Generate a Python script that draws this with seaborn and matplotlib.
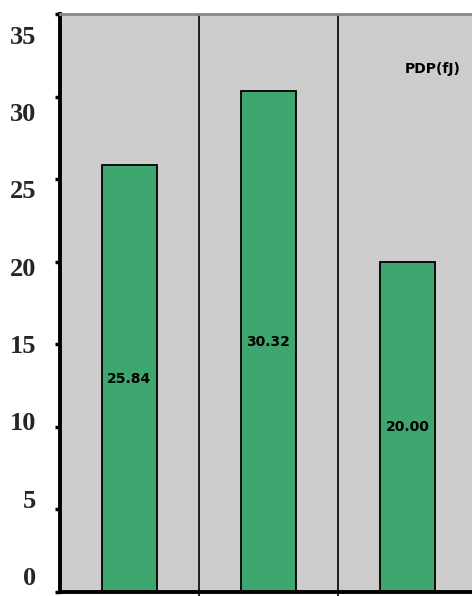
import matplotlib
matplotlib.use("Agg")
import matplotlib.pyplot as plt
import seaborn as sns
import pandas as pd

categories = ["A", "B", "C"]
values = [25.84, 30.32, 20.00]
value_labels = ["25.84", "30.32", "20.00"]
yticks = [0, 5, 10, 15, 20, 25, 30, 35]
title = "PDP(fJ)"

df = pd.DataFrame({"cat": categories, "val": values})

sns.set_style("white")
fig = plt.figure(figsize=(4.72, 5.96), dpi=100)
W, H = 472, 596
rect = [60 / W, (H - 592) / H, (477 - 60) / W, (592 - 14) / H]
ax = fig.add_axes(rect)
ax.set_facecolor("#cccccc")

sns.barplot(data=df, x="cat", y="val", ax=ax, color="#3ea66f",
            width=0.4, edgecolor="black", linewidth=1.3, saturation=1)

ax.set_xlim(-0.5, 2.5)
ax.set_ylim(0, 35)
ax.set_yticks(yticks)
ax.set_yticklabels([])
ax.tick_params(axis="y", left=True, direction="out", length=3.8, width=2.5, color="black")

ax.set_xticks([0.5, 1.5])
ax.set_xticklabels([])
ax.tick_params(axis="x", bottom=True, direction="out", length=4, width=1.2, color="black")
for xb in [0.5, 1.5]:
    ax.axvline(xb, color="black", lw=1.2, zorder=0.5)

ax.set_xlabel("")
ax.set_ylabel("")

for s in ["left", "bottom"]:
    ax.spines[s].set_color("black")
    ax.spines[s].set_linewidth(2.8)
ax.spines["top"].set_color("#888888")
ax.spines["top"].set_linewidth(2)
ax.spines["right"].set_visible(False)

# tick labels in reference sit on a slightly different scale than the ticks
lab_ax = fig.add_axes(rect, sharex=ax)
lab_ax.patch.set_visible(False)
for s in lab_ax.spines.values():
    s.set_visible(False)
lab_ax.set_ylim((576 - 592) / 15.47, (576 - 14) / 15.47)
lab_ax.set_yticks(yticks)
lab_ax.set_yticklabels([str(t) for t in yticks], family="Liberation Serif",
                       fontweight="bold", fontsize=19)
lab_ax.tick_params(axis="y", length=0, pad=17.3)
lab_ax.tick_params(axis="x", length=0, labelbottom=False)

for i, (v, lab) in enumerate(zip(values, value_labels)):
    ax.text(i, v / 2, lab, ha="center", va="center", fontsize=10,
            fontweight="bold", family="DejaVu Sans", color="black")

ax.text(2.0 + (433 - 407.5) / 139, 35 - (69 - 14) / (578 / 35), title,
        ha="center", va="center", fontsize=10, fontweight="bold",
        family="DejaVu Sans", color="black")

fig.savefig("out.png", dpi=100)
